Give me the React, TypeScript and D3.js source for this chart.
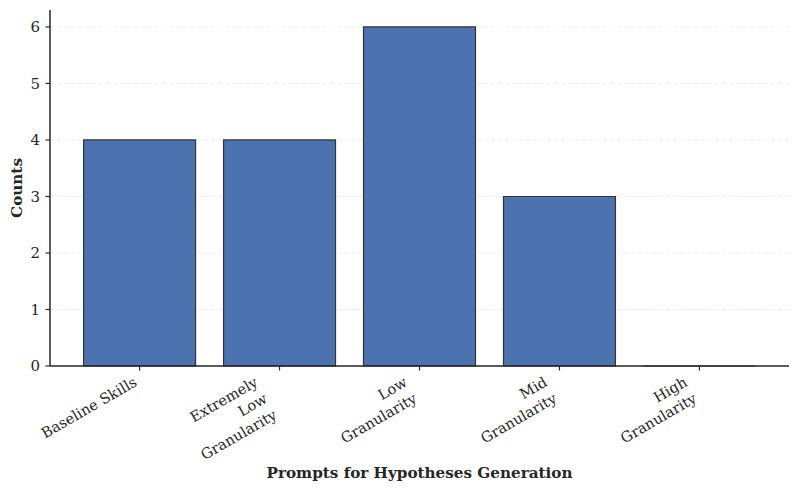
import React from 'react';
import * as d3 from 'd3';

const categories = [
  'Baseline Skills',
  'Extremely\nLow\nGranularity',
  'Low\nGranularity',
  'Mid\nGranularity',
  'High\nGranularity',
];
const counts = [4, 4, 6, 3, 0];
const yTicks = [0, 1, 2, 3, 4, 5, 6];

const W = 798;
const H = 493;
const left = 50;
const right = 789;
const top = 10;
const bottom = 366;
const font = '"DejaVu Serif", "Liberation Serif", serif';
const fs = 14.5;
const lh = 19;

const App: React.FC = () => {
  const x = d3.scaleLinear().domain([-0.64, categories.length - 1 + 0.64]).range([left, right]);
  const y = d3.scaleLinear().domain([0, 6.3]).range([bottom, top]);
  const half = 0.4;

  return (
    <svg width={W} height={H} style={{ position: 'absolute', left: 0, top: 0 }} fontFamily={font}>
      {/* grid */}
      {yTicks.map(t => (
        <line key={'g' + t} x1={left} x2={right} y1={y(t)} y2={y(t)}
          stroke="#e6e6e6" strokeWidth={0.8} strokeDasharray="4,3" />
      ))}
      {/* bars */}
      {counts.map((v, i) => {
        const x0 = x(i - half), x1 = x(i + half);
        const y0 = y(0), y1 = y(v);
        return (
          <path key={'b' + i} d={`M${x0},${y0}V${y1}H${x1}V${y0}Z`}
            fill="#4c72b0" stroke="#333333" strokeWidth={1.2} />
        );
      })}
      {/* spines */}
      <line x1={left} x2={left} y1={top} y2={bottom} stroke="#262626" strokeWidth={1.5} />
      <line x1={left} x2={right} y1={bottom} y2={bottom} stroke="#262626" strokeWidth={1.5} />
      {/* y ticks */}
      {yTicks.map(t => (
        <g key={'y' + t} transform={`translate(${left},${y(t)})`}>
          <line x1={-4.5} x2={0} stroke="#262626" strokeWidth={1.2} />
          <text x={-10} dy="0.36em" textAnchor="end" fontSize={15} fill="#262626">{t}</text>
        </g>
      ))}
      {/* x ticks */}
      {categories.map((c, i) => {
        const lines = c.split('\n');
        const bh = (lines.length - 1) * lh + 15;
        const ax = x(i) - bh * Math.sin(Math.PI / 6);
        const ay = bottom + 9;
        return (
          <g key={'x' + i}>
            <line x1={x(i)} x2={x(i)} y1={bottom} y2={bottom + 4.5} stroke="#262626" strokeWidth={1.2} />
            <g transform={`translate(${ax},${ay}) rotate(-30)`}>
              <text textAnchor="end" fontSize={fs} fill="#262626">
                {lines.map((l, k) => (
                  <tspan key={k} x={0} y={k * lh + fs * 0.8}>{l}</tspan>
                ))}
              </text>
            </g>
          </g>
        );
      })}
      {/* axis titles */}
      <text x={(left + right) / 2} y={478} textAnchor="middle" fontSize={15.2} fontWeight="bold" fill="#262626">
        Prompts for Hypotheses Generation
      </text>
      <text transform={`translate(22,${(top + bottom) / 2}) rotate(-90)`} textAnchor="middle"
        fontSize={15.2} fontWeight="bold" fill="#262626">
        Counts
      </text>
    </svg>
  );
};

export default App;
